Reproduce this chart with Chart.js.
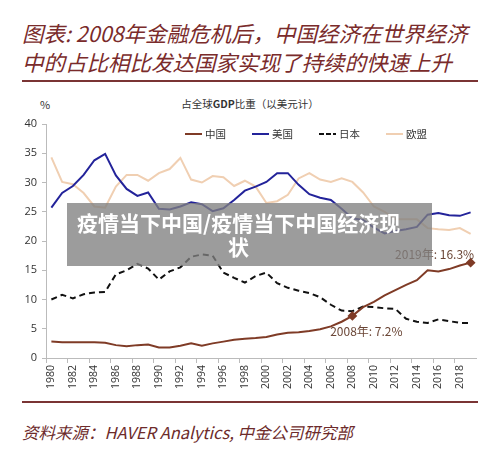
<!DOCTYPE html>
<html>
<head>
<meta charset="utf-8">
<script src="https://cdn.jsdelivr.net/npm/chart.js@4.4.0/dist/chart.umd.min.js"></script>
<style>
  body { margin: 0; width: 500px; height: 469px; background: #fff; position: relative; overflow: hidden; font-family: "Noto Sans CJK SC", sans-serif; }
  .title { position: absolute; left: 22px; top: 18px; color: #7a2b2b; font-size: 21.5px; line-height: 29px; font-style: italic; white-space: nowrap; }
  .rule { position: absolute; left: 22px; width: 456px; height: 2px; background: #7a3434; }
  .source { position: absolute; left: 22px; top: 421px; color: #6d2b2b; font-size: 16.5px; line-height: 22px; font-style: italic; white-space: nowrap; }
  .pct { position: absolute; left: 40px; top: 96px; font-size: 11px; color: #333; }
  .subtitle { position: absolute; left: 0; width: 500px; top: 96px; text-align: center; font-size: 10.5px; color: #333; }
  #legend { position: absolute; left: 185px; top: 127px; display: flex; gap: 26px; font-size: 10.5px; color: #333; line-height: 14px; }
  #legend .item { display: flex; align-items: center; gap: 3px; }
  #legend .swatch { width: 17px; height: 2px; }
  #wrap { position: absolute; left: 0; top: 110px; width: 500px; height: 288px; }
  .banner { position: absolute; left: 67px; top: 203px; width: 365px; height: 63px; box-sizing: border-box; padding: 7px 32px 0 10px; background: rgba(128,128,128,0.78); color: #fff; font-weight: 700; font-size: 21px; line-height: 24px; text-align: center; white-space: nowrap; }
</style>
</head>
<body>
<div class="title">图表: 2008年金融危机后，中国经济在世界经济<br>中的占比相比发达国家实现了持续的快速上升</div>
<div class="rule" style="top:80px"></div>
<div class="pct">%</div>
<div class="subtitle">占全球<b>GDP</b>比重（以美元计）</div>
<div id="wrap"><canvas id="myChart"></canvas></div>
<div id="legend"></div>
<div class="rule" style="top:401px"></div>
<div class="source">资料来源：HAVER Analytics, 中金公司研究部</div>
<div class="banner">疫情当下中国/疫情当下中国经济现<br>状</div>

<script>
const years = Array.from({ length: 40 }, (_, i) => String(1980 + i));

// share of world GDP, %
const china = [2.8, 2.7, 2.7, 2.7, 2.7, 2.6, 2.2, 2.0, 2.2, 2.3,
               1.8, 1.8, 2.1, 2.5, 2.1, 2.5, 2.8, 3.1, 3.3, 3.4,
               3.6, 4.0, 4.3, 4.4, 4.6, 4.9, 5.4, 6.2, 7.2, 8.7,
               9.6, 10.7, 11.6, 12.5, 13.3, 15.0, 14.8, 15.2, 15.8, 16.3];
const usa = [25.7, 28.2, 29.4, 31.3, 33.8, 34.9, 31.2, 28.9, 27.7, 28.3,
             25.5, 25.4, 25.9, 26.6, 26.3, 25.1, 25.6, 27.0, 28.6, 29.3,
             30.1, 31.6, 31.6, 29.6, 28.0, 27.4, 27.0, 25.5, 23.9, 23.6,
             22.3, 21.3, 21.7, 22.0, 22.4, 24.5, 24.8, 24.4, 24.3, 24.9];
const japan = [10.0, 10.8, 10.2, 10.9, 11.2, 11.3, 14.3, 15.0, 16.1, 15.3,
               13.4, 14.8, 15.5, 17.3, 17.7, 17.5, 14.6, 13.7, 12.9, 14.0,
               14.6, 12.8, 12.0, 11.5, 11.1, 10.4, 9.1, 8.1, 8.0, 8.8,
               8.7, 8.5, 8.4, 6.7, 6.2, 6.0, 6.6, 6.3, 6.0, 6.0];
const eu = [34.3, 30.1, 29.7, 28.2, 25.9, 25.7, 29.3, 31.3, 31.3, 30.3,
            31.6, 32.3, 34.2, 30.5, 30.0, 31.1, 30.9, 29.4, 30.3, 29.3,
            26.5, 26.8, 27.9, 30.7, 31.6, 30.5, 30.1, 30.7, 30.1, 28.3,
            25.9, 25.0, 23.7, 23.7, 23.7, 22.2, 22.0, 21.9, 22.2, 21.2];

const seriesNames = ['中国', '美国', '日本', '欧盟'];
const markedYears = ['2008', '2019'];
const markIdx = markedYears.map(y => years.indexOf(y));

// labels next to the two marked China points
const notePlugin = {
    id: 'notes',
    afterDatasetsDraw(chart) {
        const ctx = chart.ctx;
        const xs = chart.scales.x, ys = chart.scales.y;
        const offsets = [[14, 16], [-36, -8]];
        ctx.save();
        ctx.font = '12px "Noto Sans CJK SC", sans-serif';
        ctx.fillStyle = '#6a4535';
        ctx.textAlign = 'center';
        ctx.textBaseline = 'middle';
        markIdx.forEach((i, k) => {
            const px = xs.getPixelForValue(i);
            const py = ys.getPixelForValue(china[i]);
            ctx.fillText(years[i] + '年: ' + china[i] + '%', px + offsets[k][0], py + offsets[k][1]);
        });
        ctx.restore();
    }
};

const data = {
    labels: years,
    datasets: [
        {
            label: seriesNames[0],
            data: china,
            borderColor: '#7f3b26',
            backgroundColor: '#7f3b26',
            borderWidth: 2,
            pointStyle: 'rectRot',
            pointRadius: china.map((v, i) => markIdx.includes(i) ? 3.5 : 0),
            order: 0
        },
        {
            label: seriesNames[1],
            data: usa,
            borderColor: '#23239a',
            backgroundColor: '#23239a',
            borderWidth: 2,
            pointRadius: 0,
            order: 1
        },
        {
            label: seriesNames[2],
            data: japan,
            borderColor: '#111',
            backgroundColor: '#111',
            borderWidth: 2,
            borderDash: [6, 4],
            pointRadius: 0,
            order: 2
        },
        {
            label: seriesNames[3],
            data: eu,
            borderColor: '#f0cfb2',
            backgroundColor: '#f0cfb2',
            borderWidth: 2,
            pointRadius: 0,
            order: 3
        }
    ]
};

var ctx = document.getElementById('myChart').getContext('2d');
var myChart = new Chart(ctx, {
    type: 'line',
    data: data,
    plugins: [notePlugin],
    options: {
        responsive: true,
        maintainAspectRatio: false,
        animation: false,
        layout: { padding: { top: 14, right: 24, left: 0, bottom: 0 } },
        elements: { line: { tension: 0 } },
        scales: {
            x: {
                offset: true,
                afterFit: function (scale) { scale.height = 40; },
                grid: {
                    offset: true,
                    drawOnChartArea: false,
                    tickLength: 5,
                    color: function (c) { return c.index % 2 === 0 ? '#bbb' : 'rgba(0,0,0,0)'; }
                },
                border: { color: '#bbb' },
                ticks: {
                    autoSkip: false,
                    maxRotation: 90,
                    minRotation: 90,
                    padding: 2,
                    color: '#333',
                    font: { family: '"Open Sans", sans-serif', size: 10.5 },
                    callback: function (v, i) { return i % 2 === 0 ? years[i] : ''; }
                }
            },
            y: {
                min: 0,
                max: 40,
                afterFit: function (scale) { scale.width = 46; },
                grid: { drawOnChartArea: false, tickLength: 4, color: '#bbb' },
                border: { color: '#bbb' },
                ticks: {
                    stepSize: 5,
                    padding: 5,
                    color: '#333',
                    font: { family: '"Open Sans", sans-serif', size: 11 }
                }
            }
        },
        plugins: {
            legend: { display: false },
            tooltip: { enabled: false }
        }
    }
});

// legend built from the chart's datasets
const legendEl = document.getElementById('legend');
myChart.data.datasets.forEach(function (ds) {
    const item = document.createElement('div');
    item.className = 'item';
    const sw = document.createElement('span');
    sw.className = 'swatch';
    if (ds.borderDash) {
        sw.style.background = 'repeating-linear-gradient(to right, ' + ds.borderColor + ' 0 5px, transparent 5px 7px)';
    } else {
        sw.style.background = ds.borderColor;
    }
    const txt = document.createElement('span');
    txt.textContent = ds.label;
    item.appendChild(sw);
    item.appendChild(txt);
    legendEl.appendChild(item);
});
</script>
</body>
</html>
